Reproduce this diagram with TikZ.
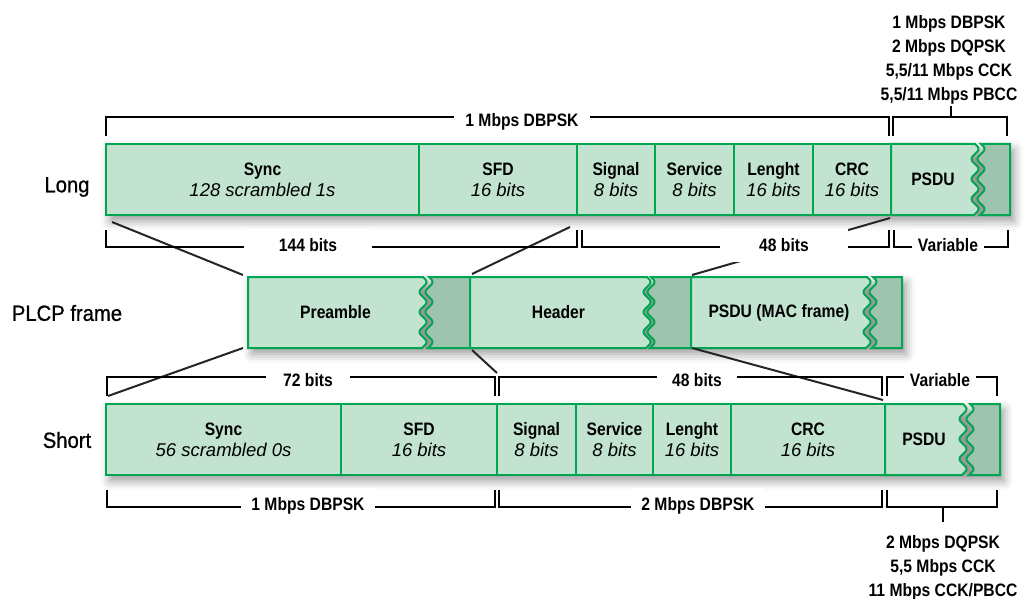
\documentclass[tikz,border=0pt]{standalone}
\usepackage{fontspec}
\setmainfont{Liberation Sans}
\newfontfamily\condfont{Liberation Sans}[FakeStretch=0.87]
\newfontfamily\rowfont{Liberation Sans}[FakeStretch=0.92,FakeBold=0.8]
\usetikzlibrary{positioning,shadows.blur}
\definecolor{cellfill}{RGB}{193,227,207}
\definecolor{framegreen}{RGB}{0,166,81}
\definecolor{tailfill}{RGB}{158,196,175}
\newcommand\detail[1]{{\rmfamily\mdseries\itshape\fontsize{18.5}{21}\selectfont #1}}
\newcommand\labfont{\condfont\bfseries\fontsize{18}{24}\selectfont}
% cell with a torn right edge, and the torn-off tail piece
\newcommand\wavecell[3]{\draw[cellline,fill=cellfill] (#1,#3) -- (#2,#3) -- plot[domain=0:71,samples=60,smooth] ({#2+3.5*sin(18*\x)},{#3+\x}) -- (#1,#3+71) -- cycle;}
\newcommand\wavetail[3]{\draw[cellline,fill=tailfill] (#2,#3) -- plot[domain=0:71,samples=60,smooth] ({#1+3.5*sin(18*\x)},{#3+\x}) -- (#2,#3+71) -- cycle;}

\begin{document}
\begin{tikzpicture}[x=1pt,y=-1pt,node distance=0pt,
cellline/.style={draw=framegreen,line width=2pt},
cell/.style={cellline,fill=cellfill,minimum height=71pt,inner sep=0pt,outer sep=0pt,align=center,font=\labfont\fontsize{18}{21}\selectfont},
celltext/.style={cell,draw=none,fill=none},
rowshadow/.style={blur shadow={shadow xshift=4pt,shadow yshift=-6pt,shadow blur radius=9pt,shadow opacity=40}},
rowlab/.style={font=\rowfont\fontsize{22}{26}\selectfont},
zoomline/.style={line width=2pt,black!85},
brk/.style={line width=2.8pt,black},
lab/.style={fill=white,font=\labfont,inner ysep=10pt,text height=13pt,text depth=0pt}]
\useasboundingbox (0,0) rectangle (1033,599);
\path[rowshadow] (106,144) rectangle (1010,215);
\path[rowshadow] (248,277) rectangle (902,348);
\path[rowshadow] (106,404) rectangle (1000,475);

% long preamble
\node[rowlab] (tlong) at (67,187) {Long};
\wavecell{891}{975}{144}\wavetail{981}{1010}{144}
\node[cell,minimum width=313pt,anchor=north west] (lsync) at (106,144) {Sync\\\detail{128 scrambled 1s}};
\node[cell,minimum width=158pt,right=of lsync] (lsfd) {SFD\\\detail{16 bits}};
\node[cell,minimum width=78pt,right=of lsfd] (lsig) {Signal\\\detail{8 bits}};
\node[cell,minimum width=79pt,right=of lsig] (lserv) {Service\\\detail{8 bits}};
\node[cell,minimum width=79pt,right=of lserv] (llen) {Lenght\\\detail{16 bits}};
\node[cell,minimum width=78pt,right=of llen] (lcrc) {CRC\\\detail{16 bits}};
\node[celltext,minimum width=84pt,right=of lcrc] (lpsdu) {PSDU};

% PLCP frame
\node[rowlab] (tplcp) at (67,313) {PLCP frame};
\wavecell{248}{423}{277}\wavetail{429}{470}{277}
\wavecell{470}{647}{277}\wavetail{651}{691}{277}
\wavecell{691}{867}{277}\wavetail{873}{902}{277}
\node[celltext,minimum width=175pt,anchor=north west] (pre) at (248,277) {Preamble};
\node[celltext,minimum width=177pt,anchor=north west] (hdr) at (470,277) {Header};
\node[celltext,minimum width=176pt,anchor=north west] (mac) at (691,277) {PSDU (MAC frame)};

% short preamble
\node[rowlab] (tshort) at (67,440) {Short};
\wavecell{885}{963}{404}\wavetail{970}{1000}{404}
\node[cell,minimum width=235pt,anchor=north west] (ssync) at (106,404) {Sync\\\detail{56 scrambled 0s}};
\node[cell,minimum width=156pt,right=of ssync] (ssfd) {SFD\\\detail{16 bits}};
\node[cell,minimum width=79pt,right=of ssfd] (ssig) {Signal\\\detail{8 bits}};
\node[cell,minimum width=77pt,right=of ssig] (sserv) {Service\\\detail{8 bits}};
\node[cell,minimum width=78pt,right=of sserv] (slen) {Lenght\\\detail{16 bits}};
\node[cell,minimum width=154pt,right=of slen] (scrc) {CRC\\\detail{16 bits}};
\node[celltext,minimum width=78pt,right=of scrc] (spsdu) {PSDU};

% zoom lines between the rows
\coordinate (stick) at (497,373);
\draw[zoomline] ([xshift=6pt,yshift=-7pt]lsync.south west) -- ([xshift=-5pt,yshift=2pt]pre.north west);
\draw[zoomline] ([xshift=-7pt,yshift=-12pt]lsfd.south east) -- ([xshift=2pt,yshift=3pt]hdr.north west);
\draw[zoomline] ([xshift=-1pt,yshift=-3pt]lcrc.south east) -- ([xshift=1pt,yshift=2pt]mac.north west);
\draw[zoomline] ([xshift=-5pt]pre.south west) -- ([xshift=2pt,yshift=8pt]ssync.north west);
\draw[zoomline] ([xshift=2pt,yshift=-2pt]hdr.south west) -- (stick);
\draw[zoomline] ([xshift=1pt]mac.south west) -- ([xshift=-2pt,yshift=4pt]scrc.north east);

% brackets, long
\draw[brk] (106,136) |- (889,117) -- (889,136);
\draw[brk] (893,136) |- (1007,117) -- (1007,136);
\coordinate (ltick) at (951,117); \coordinate (ltip) at (951,106);
\draw[brk] (ltick) -- (ltip);
\node[lab,inner xsep=11pt] (lmod) at (522,120) {1 Mbps DBPSK};
\node[font=\labfont,align=center,anchor=north,inner sep=0pt] (lrates) at (949,15) {1 Mbps DBPSK\\2 Mbps DQPSK\\5,5/11 Mbps CCK\\5,5/11 Mbps PBCC};
\draw[brk] (106,230) |- (577,247) -- (577,230);
\draw[brk] (582,230) |- (889,247) -- (889,230);
\draw[brk] (894,230) |- (1008,247) -- (1008,230);
\node[lab,inner xsep=35pt] (lpre) at (308,245) {144 bits};
\node[lab,inner xsep=39pt] (lhdr) at (784,245) {48 bits};
\node[lab,inner xsep=6pt] (lvar) at (948,245) {Variable};

% brackets, short
\draw[brk] (107,396) |- (495,377) -- (495,396);
\draw[brk] (499,396) |- (882,377) -- (882,396);
\draw[brk] (887,396) |- (997,377) -- (997,396);
\node[lab,inner xsep=17pt] (spre) at (308,380) {72 bits};
\node[lab,inner xsep=15pt] (shdr) at (697,380) {48 bits};
\node[lab,inner xsep=6pt] (svar) at (940,380) {Variable};
\draw[brk] (107,490) |- (495,507) -- (495,490);
\draw[brk] (499,490) |- (882,507) -- (882,490);
\draw[brk] (887,490) |- (997,507) -- (997,490);
\coordinate (stick2) at (943,507); \coordinate (stip) at (943,522);
\draw[brk] (stick2) -- (stip);
\node[lab,inner xsep=10pt] (smod1) at (308,504) {1 Mbps DBPSK};
\node[lab,inner xsep=10pt] (smod2) at (698,504) {2 Mbps DBPSK};
\node[font=\labfont,align=center,anchor=north,inner sep=0pt] (srates) at (943,535) {2 Mbps DQPSK\\5,5 Mbps CCK\\11 Mbps CCK/PBCC};
\end{tikzpicture}
\end{document}
